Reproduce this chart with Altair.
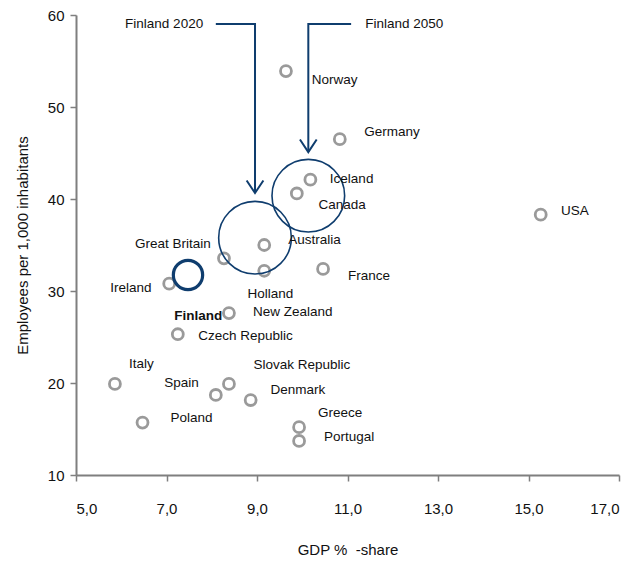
import altair as alt
import pandas as pd

# ---- data ----
countries = ["Norway", "Germany", "Iceland", "Canada", "USA", "Australia",
             "Great Britain", "Holland", "France", "Ireland", "New Zealand",
             "Czech Republic", "Italy", "Spain", "Slovak Republic", "Denmark",
             "Poland", "Greece", "Portugal"]
gdp_share = [9.64, 10.83, 10.18, 9.88, 15.27, 9.16,
             8.27, 9.16, 10.46, 7.06, 8.38,
             7.25, 5.86, 8.09, 8.38, 8.86,
             6.47, 9.93, 9.93]
employees = [53.9, 46.5, 42.1, 40.6, 38.3, 35.0,
             33.55, 32.2, 32.4, 30.8, 27.6,
             25.3, 19.9, 18.7, 19.9, 18.15,
             15.7, 15.2, 13.7]

# label anchor positions (data units) and alignment
label_x = [10.21, 11.37, 10.61, 10.36, 15.72, 9.69,
           7.98, 8.79, 11.01, 6.67, 8.91,
           7.70, 6.17, 6.95, 8.92, 9.30,
           7.09, 10.35, 10.48]
label_y = [52.9, 47.3, 42.2, 39.4, 38.7, 35.5,
           35.1, 29.7, 31.6, 30.3, 27.75,
           25.1, 22.1, 20.0, 21.95, 19.25,
           16.2, 16.7, 14.1]
label_align = ["left", "left", "left", "left", "left", "left",
               "right", "left", "left", "right", "left",
               "left", "left", "left", "left", "left",
               "left", "left", "left"]

# Finland today and projections
finland_names = ["Finland", "Finland 2020", "Finland 2050"]
finland_gdp = [7.475, 8.956, 10.134]
finland_emp = [31.74, 35.79, 40.36]
finland_label = ["Finland", "Finland 2020", "Finland 2050"]
finland_label_x = [8.23, 7.81, 11.39]
finland_label_y = [27.3, 59.0, 59.0]
finland_label_align = ["right", "right", "left"]

# arrows (label -> projection)
arrow_name = ["Finland 2020"] * 3 + ["Finland 2050"] * 3
arrow_order = [0, 1, 2, 0, 1, 2]
arrow_x = [8.09, 8.956, 8.956, 11.08, 10.134, 10.134]
arrow_y = [59.02, 59.02, 40.65, 59.02, 59.02, 45.1]

NAVY = "#0f3d6e"
GRAY = "#9a9a9a"
FONT = "Liberation Sans"

pts = pd.DataFrame({"country": countries, "gdp": gdp_share, "emp": employees,
                    "lx": label_x, "ly": label_y, "align": label_align})
fin = pd.DataFrame({"name": finland_names, "gdp": finland_gdp, "emp": finland_emp,
                    "label": finland_label, "lx": finland_label_x,
                    "ly": finland_label_y, "align": finland_label_align})
arr = pd.DataFrame({"name": arrow_name, "o": arrow_order, "x": arrow_x, "y": arrow_y})

xscale = alt.Scale(domain=[5, 17], nice=False, zero=False)
yscale = alt.Scale(domain=[10, 60], nice=False, zero=False)

xaxis = alt.Axis(values=[5, 7, 9, 11, 13, 15, 17], title="GDP %\u00a0 -share",
                 labelExpr="replace(format(datum.value, '.1f'), '.', ',')",
                 grid=False, domainColor="#7f7f7f", domainWidth=2,
                 tickColor="#7f7f7f", tickWidth=1.5, tickSize=6,
                 labelPadding=20, labelFontSize=15, labelFont=FONT, labelColor="#111",
                 titleFont=FONT, titleFontSize=15, titleFontWeight="normal",
                 titleColor="#111", titleY=74, titleBaseline="middle")
yaxis = alt.Axis(values=[10, 20, 30, 40, 50, 60], title="Employees per 1,000 inhabitants",
                 grid=False, domainColor="#7f7f7f", domainWidth=2,
                 tickColor="#7f7f7f", tickWidth=1.5, tickSize=6,
                 labelPadding=6, labelFontSize=15, labelFont=FONT, labelColor="#111",
                 titleFont=FONT, titleFontSize=15, titleFontWeight="normal",
                 titleColor="#111", titleX=-54, titleBaseline="middle", titleAngle=-90)

base_pts = alt.Chart(pts)

gray_pts = base_pts.mark_point(shape="circle", filled=False, size=120,
                               strokeWidth=2.8, color=GRAY, opacity=1).encode(
    x=alt.X("gdp:Q", scale=xscale, axis=xaxis),
    y=alt.Y("emp:Q", scale=yscale, axis=yaxis),
)

labels_left = base_pts.transform_filter("datum.align == 'left'").mark_text(
    align="left", baseline="middle", font=FONT, fontSize=13.5, color="#111").encode(
    x="lx:Q", y="ly:Q", text="country:N")
labels_right = base_pts.transform_filter("datum.align == 'right'").mark_text(
    align="right", baseline="middle", font=FONT, fontSize=13.5, color="#111").encode(
    x="lx:Q", y="ly:Q", text="country:N")

base_fin = alt.Chart(fin)
fin_now = base_fin.transform_filter("datum.name == 'Finland'").mark_point(
    shape="circle", filled=False, size=860, strokeWidth=3.2, color=NAVY, opacity=1).encode(
    x="gdp:Q", y="emp:Q")
fin_proj = base_fin.transform_filter("datum.name != 'Finland'").mark_point(
    shape="circle", filled=False, size=5280, strokeWidth=1.6, color=NAVY, opacity=1).encode(
    x="gdp:Q", y="emp:Q")
fin_lab_bold = base_fin.transform_filter("datum.name == 'Finland'").mark_text(
    align="right", baseline="middle", font=FONT, fontSize=13.5, fontWeight="bold",
    color="#111").encode(x="lx:Q", y="ly:Q", text="label:N")
fin_lab_r = base_fin.transform_filter("datum.name == 'Finland 2020'").mark_text(
    align="right", baseline="middle", font=FONT, fontSize=13.5, color="#111").encode(
    x="lx:Q", y="ly:Q", text="label:N")
fin_lab_l = base_fin.transform_filter("datum.name == 'Finland 2050'").mark_text(
    align="left", baseline="middle", font=FONT, fontSize=13.5, color="#111").encode(
    x="lx:Q", y="ly:Q", text="label:N")

base_arr = alt.Chart(arr)
arrow_lines = base_arr.mark_line(color=NAVY, strokeWidth=2).encode(
    x="x:Q", y="y:Q", detail="name:N", order="o:Q")
arrow_heads = base_arr.transform_filter("datum.o == 2").mark_point(
    shape="M-1,-1.5L0,0L1,-1.5", filled=False, size=280, strokeWidth=2,
    color=NAVY, opacity=1).encode(x="x:Q", y="y:Q")

chart = alt.layer(
    gray_pts, fin_proj, fin_now, arrow_lines, arrow_heads,
    labels_left, labels_right, fin_lab_bold, fin_lab_r, fin_lab_l
).properties(
    width=543, height=460,
    autosize=alt.AutoSizeParams(type="none"),
    padding={"left": 68, "top": 7, "right": 10, "bottom": 86},
).configure_view(stroke=None)

chart.save("out.html", embed_options={"renderer": "svg", "actions": False})
